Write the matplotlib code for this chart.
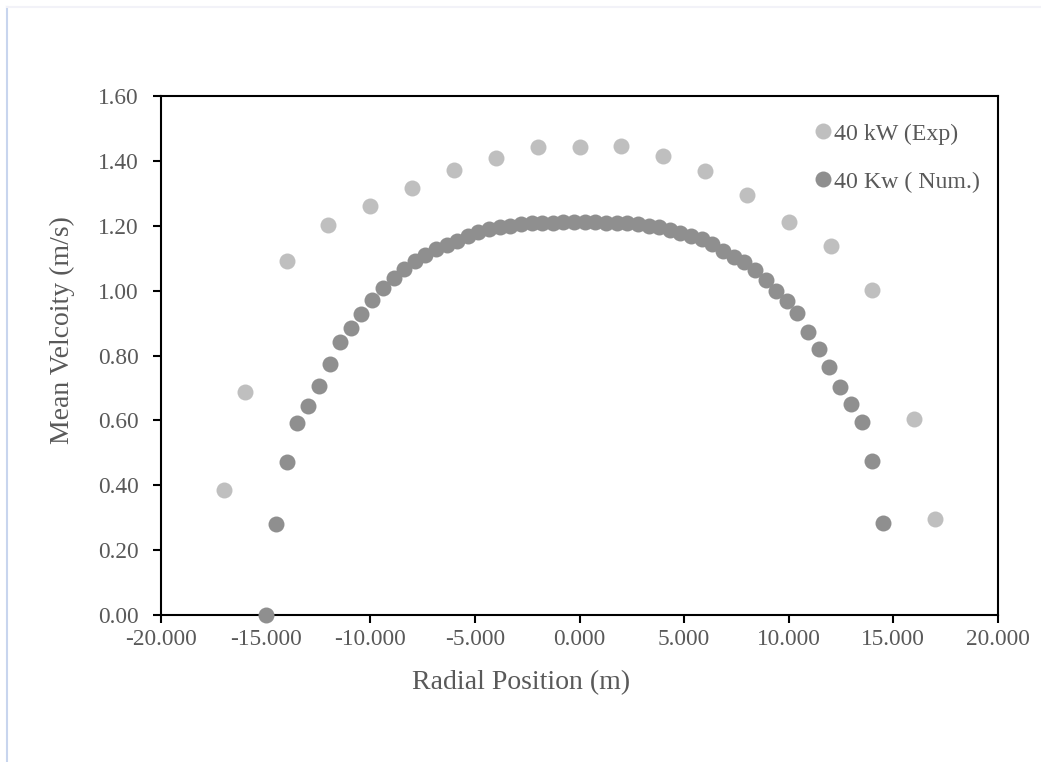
import numpy as np
import matplotlib
matplotlib.use('Agg')
import matplotlib.pyplot as plt
from matplotlib.ticker import FormatStrFormatter
from matplotlib.lines import Line2D

# Datos experimentales (40 kW)
x_exp = [-17, -16, -14, -12, -10, -8, -6, -4, -2, 0, 2, 4, 6, 8, 10, 12, 14, 16, 17]
v_exp = [0.385, 0.687, 1.091, 1.202, 1.261, 1.316, 1.372, 1.409, 1.443, 1.443,
         1.446, 1.416, 1.369, 1.295, 1.211, 1.137, 1.002, 0.604, 0.296]

# Resultados numericos (40 kW)
x_num = [-15.0, -14.5, -14.0, -13.5, -12.96,
         -12.45, -11.94, -11.43, -10.93, -10.42, -9.91, -9.40, -8.89, -8.39, -7.88,
         -7.37, -6.86, -6.35, -5.85, -5.34, -4.83, -4.32, -3.81, -3.31, -2.80,
         -2.29, -1.78, -1.27, -0.77, -0.26, 0.25, 0.76, 1.27, 1.77, 2.28,
         2.79, 3.30, 3.81, 4.31, 4.82, 5.33, 5.84, 6.35, 6.85, 7.36,
         7.87, 8.38, 8.89, 9.39, 9.90, 10.41, 10.92, 11.43, 11.93, 12.44,
         12.96, 13.48, 14.0, 14.5]
v_num = [0.000, 0.281, 0.471, 0.592, 0.645,
         0.707, 0.774, 0.842, 0.885, 0.928, 0.971, 1.008, 1.039, 1.067, 1.091,
         1.110, 1.128, 1.141, 1.153, 1.168, 1.181, 1.190, 1.196, 1.199, 1.205,
         1.207, 1.209, 1.210, 1.211, 1.212, 1.212, 1.211, 1.210, 1.209, 1.207,
         1.204, 1.200, 1.195, 1.187, 1.178, 1.168, 1.159, 1.143, 1.122, 1.104,
         1.088, 1.063, 1.033, 0.999, 0.968, 0.931, 0.873, 0.820, 0.765, 0.703,
         0.650, 0.595, 0.475, 0.284]

plt.rcParams['font.family'] = ['Liberation Serif', 'DejaVu Serif']
plt.rcParams['axes.unicode_minus'] = False

fig = plt.figure(figsize=(10.41, 7.62), dpi=100)
ax = fig.add_axes([0.1547, 0.1929, 0.804, 0.6811])

ax.plot(x_exp, v_exp, 'o', color='#BFBFBF', markersize=11.5, markeredgewidth=0,
        label='40 kW (Exp)', zorder=3)
ax.plot(x_num, v_num, 'o', color='#8F8F8F', markersize=11.5, markeredgewidth=0,
        label='40 Kw ( Num.)', zorder=3, clip_on=False)

ax.set_xlim(-20, 20)
ax.set_ylim(0, 1.6)
ax.set_xticks(np.arange(-20, 20.1, 5))
ax.set_yticks(np.arange(0, 1.61, 0.2))
ax.xaxis.set_major_formatter(FormatStrFormatter('%.3f'))
ax.yaxis.set_major_formatter(FormatStrFormatter('%.2f'))

for s in ax.spines.values():
    s.set_color('black')
    s.set_linewidth(1.5)
ax.tick_params(axis='both', direction='out', length=5.8, width=1.5, color='black',
               labelsize=16.8, labelcolor='#595959')
ax.tick_params(axis='x', pad=4)
ax.tick_params(axis='y', pad=10.5)

ax.set_xlabel('Radial Position (m)', fontsize=20, color='#595959', va='center')
ax.set_ylabel('Mean Velcoity (m/s)', fontsize=20, color='#595959', va='center')
ax.xaxis.set_label_coords(0.430, -0.131)
ax.yaxis.set_label_coords(-0.118, 0.549)

leg = ax.legend(loc='upper right', frameon=False, fontsize=17.2,
                handletextpad=-0.05, handlelength=1.0, labelspacing=1.1,
                borderaxespad=0.3, bbox_to_anchor=(0.998, 0.98))
for t in leg.get_texts():
    t.set_color('#595959')

# borde del area del grafico
fig.add_artist(Line2D([7 / 1041, 7 / 1041], [0, 755 / 762], color='#C8D5EE',
                      linewidth=1.5, transform=fig.transFigure))
fig.add_artist(Line2D([7 / 1041, 1], [755 / 762, 755 / 762], color='#F2F2F8',
                      linewidth=1.5, transform=fig.transFigure))

plt.savefig('out.png', dpi=100)
